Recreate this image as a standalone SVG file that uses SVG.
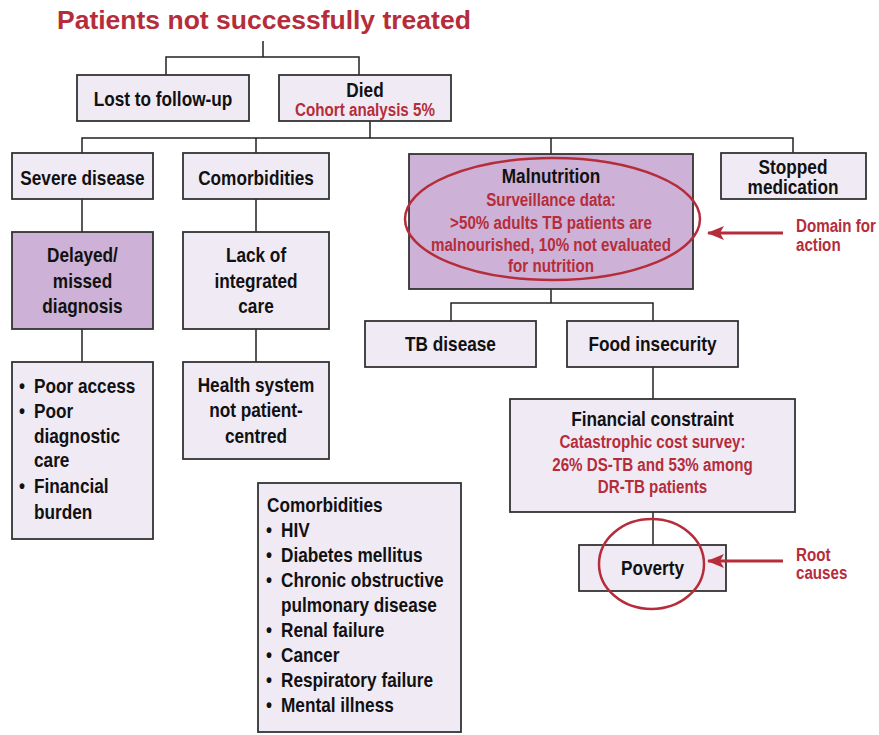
<svg xmlns="http://www.w3.org/2000/svg" width="879" height="735" viewBox="0 0 879 735">
<defs>
<style>
.bx{fill:#F0EAF5;stroke:#333;stroke-width:1.8}
.bp{fill:#CDB1D6;stroke:#333;stroke-width:1.8}
.t{font-family:'Liberation Sans',Arial,sans-serif;font-weight:bold;font-size:21px;fill:#111}
.c{text-anchor:middle}
.r{font-family:'Liberation Sans',Arial,sans-serif;font-weight:bold;font-size:18.5px;fill:#B52D3A}
.ttl{font-family:'Liberation Sans',Arial,sans-serif;font-weight:bold;font-size:26.5px;fill:#B52D3A}
.ln{fill:none;stroke:#222;stroke-width:1.5}
.ov{fill:none;stroke:#B52D3A;stroke-width:2.5}
.ar{fill:none;stroke:#B52D3A;stroke-width:3}
</style>
<marker id="ah" markerUnits="userSpaceOnUse" viewBox="0 0 17 14" refX="16" refY="7" markerWidth="17" markerHeight="14" orient="auto">
<path d="M0,0 L17,7 L0,14 L4,7 z" fill="#B52D3A"/>
</marker>
</defs>
<rect width="879" height="735" fill="#fff"/>
<text class="ttl" x="57" y="29">Patients not successfully treated</text>

<g id="connectors">
<path class="ln" d="M263,41 V57 M166,75 V57 H359 V75"/>
<path class="ln" d="M370,121 V138 M82,153 V138 H793 V153 M256,138 V153 M551,138 V154"/>
<path class="ln" d="M82,199 V232 M82,329 V362 M256,199 V232 M256,329 V362"/>
<path class="ln" d="M551,289 V303 M451,321 V303 H653 V321 M653,367 V399 M653,512 V545"/>
</g>

<g id="lost">
<rect class="bx" x="77" y="75" width="172" height="46"/>
<text class="t c" transform="translate(163,106) scale(.82,1)">Lost to follow-up</text>
</g>
<g id="died">
<rect class="bx" x="279" y="75" width="172" height="46"/>
<text class="t c" transform="translate(365,97) scale(.82,1)">Died</text>
<text class="r c" transform="translate(365,115.5) scale(.82,1)">Cohort analysis 5%</text>
</g>
<g id="severe">
<rect class="bx" x="12" y="153" width="141" height="46"/>
<text class="t c" transform="translate(82.5,185) scale(.82,1)">Severe disease</text>
</g>
<g id="comorb">
<rect class="bx" x="183" y="153" width="146" height="46"/>
<text class="t c" transform="translate(256,185) scale(.82,1)">Comorbidities</text>
</g>
<g id="delayed">
<rect class="bp" x="12" y="232" width="141" height="97"/>
<text class="t c" transform="translate(82.5,262) scale(.82,1)">Delayed/</text>
<text class="t c" transform="translate(82.5,288) scale(.82,1)">missed</text>
<text class="t c" transform="translate(82.5,313) scale(.82,1)">diagnosis</text>
</g>
<g id="lack">
<rect class="bx" x="183" y="232" width="146" height="97"/>
<text class="t c" transform="translate(256,262) scale(.82,1)">Lack of</text>
<text class="t c" transform="translate(256,288) scale(.82,1)">integrated</text>
<text class="t c" transform="translate(256,313) scale(.82,1)">care</text>
</g>
<g id="access">
<rect class="bx" x="12" y="362" width="141" height="177"/>
<text class="t" transform="translate(19,393) scale(.82,1)">•</text><text class="t" transform="translate(34,393) scale(.82,1)">Poor access</text>
<text class="t" transform="translate(19,418) scale(.82,1)">•</text><text class="t" transform="translate(34,418) scale(.82,1)">Poor</text>
<text class="t" transform="translate(34,443) scale(.82,1)">diagnostic</text>
<text class="t" transform="translate(34,467) scale(.82,1)">care</text>
<text class="t" transform="translate(19,493) scale(.82,1)">•</text><text class="t" transform="translate(34,493) scale(.82,1)">Financial</text>
<text class="t" transform="translate(34,519) scale(.82,1)">burden</text>
</g>
<g id="health">
<rect class="bx" x="183" y="362" width="146" height="97"/>
<text class="t c" transform="translate(256,392) scale(.82,1)">Health system</text>
<text class="t c" transform="translate(256,417) scale(.82,1)">not patient-</text>
<text class="t c" transform="translate(256,443) scale(.82,1)">centred</text>
</g>
<g id="comorblist">
<rect class="bx" x="258" y="483" width="203" height="249"/>
<text class="t" transform="translate(267,512) scale(.82,1)">Comorbidities</text>
<text class="t" transform="translate(266,537) scale(.82,1)">•</text><text class="t" transform="translate(281,537) scale(.82,1)">HIV</text>
<text class="t" transform="translate(266,562) scale(.82,1)">•</text><text class="t" transform="translate(281,562) scale(.82,1)">Diabetes mellitus</text>
<text class="t" transform="translate(266,587) scale(.82,1)">•</text><text class="t" transform="translate(281,587) scale(.82,1)">Chronic obstructive</text>
<text class="t" transform="translate(281,612) scale(.82,1)">pulmonary disease</text>
<text class="t" transform="translate(266,637) scale(.82,1)">•</text><text class="t" transform="translate(281,637) scale(.82,1)">Renal failure</text>
<text class="t" transform="translate(266,662) scale(.82,1)">•</text><text class="t" transform="translate(281,662) scale(.82,1)">Cancer</text>
<text class="t" transform="translate(266,687) scale(.82,1)">•</text><text class="t" transform="translate(281,687) scale(.82,1)">Respiratory failure</text>
<text class="t" transform="translate(266,712) scale(.82,1)">•</text><text class="t" transform="translate(281,712) scale(.82,1)">Mental illness</text>
</g>
<g id="malnutrition">
<rect class="bp" x="409" y="154" width="284" height="135"/>
<text class="t c" transform="translate(551,183) scale(.82,1)">Malnutrition</text>
<text class="r c" transform="translate(551,206) scale(.82,1)">Surveillance data:</text>
<text class="r c" transform="translate(551,229) scale(.82,1)">&gt;50% adults TB patients are</text>
<text class="r c" transform="translate(551,251) scale(.82,1)">malnourished, 10% not evaluated</text>
<text class="r c" transform="translate(551,272) scale(.82,1)">for nutrition</text>
<ellipse class="ov" cx="552.5" cy="219" rx="147.5" ry="61"/>
</g>
<g id="stopped">
<rect class="bx" x="721" y="153" width="145" height="46"/>
<text class="t c" transform="translate(793,174) scale(.82,1)">Stopped</text>
<text class="t c" transform="translate(793,194) scale(.82,1)">medication</text>
</g>
<g id="domain">
<text class="r" transform="translate(796,232) scale(.82,1)">Domain for</text>
<text class="r" transform="translate(796,251) scale(.82,1)">action</text>
</g>
<g id="tbdisease">
<rect class="bx" x="365" y="321" width="171" height="46"/>
<text class="t c" transform="translate(450.5,351) scale(.82,1)">TB disease</text>
</g>
<g id="food">
<rect class="bx" x="567" y="321" width="171" height="46"/>
<text class="t c" transform="translate(652.5,351) scale(.82,1)">Food insecurity</text>
</g>
<g id="financial">
<rect class="bx" x="510" y="399" width="285" height="113"/>
<text class="t c" transform="translate(652.5,426) scale(.82,1)">Financial constraint</text>
<text class="r c" transform="translate(652.5,448) scale(.82,1)">Catastrophic cost survey:</text>
<text class="r c" transform="translate(652.5,471) scale(.82,1)">26% DS-TB and 53% among</text>
<text class="r c" transform="translate(652.5,493) scale(.82,1)">DR-TB patients</text>
</g>
<g id="poverty">
<rect class="bx" x="579" y="545" width="147" height="46"/>
<text class="t c" transform="translate(652.5,575) scale(.82,1)">Poverty</text>
<ellipse class="ov" cx="651.5" cy="564" rx="52.5" ry="45"/>
</g>
<g id="root">
<text class="r" transform="translate(796,561) scale(.82,1)">Root</text>
<text class="r" transform="translate(796,579) scale(.82,1)">causes</text>
</g>
<g id="arrows">
<line class="ar" x1="783" y1="233" x2="708" y2="233" marker-end="url(#ah)"/>
<line class="ar" x1="783" y1="561" x2="708" y2="561" marker-end="url(#ah)"/>
</g>
</svg>
